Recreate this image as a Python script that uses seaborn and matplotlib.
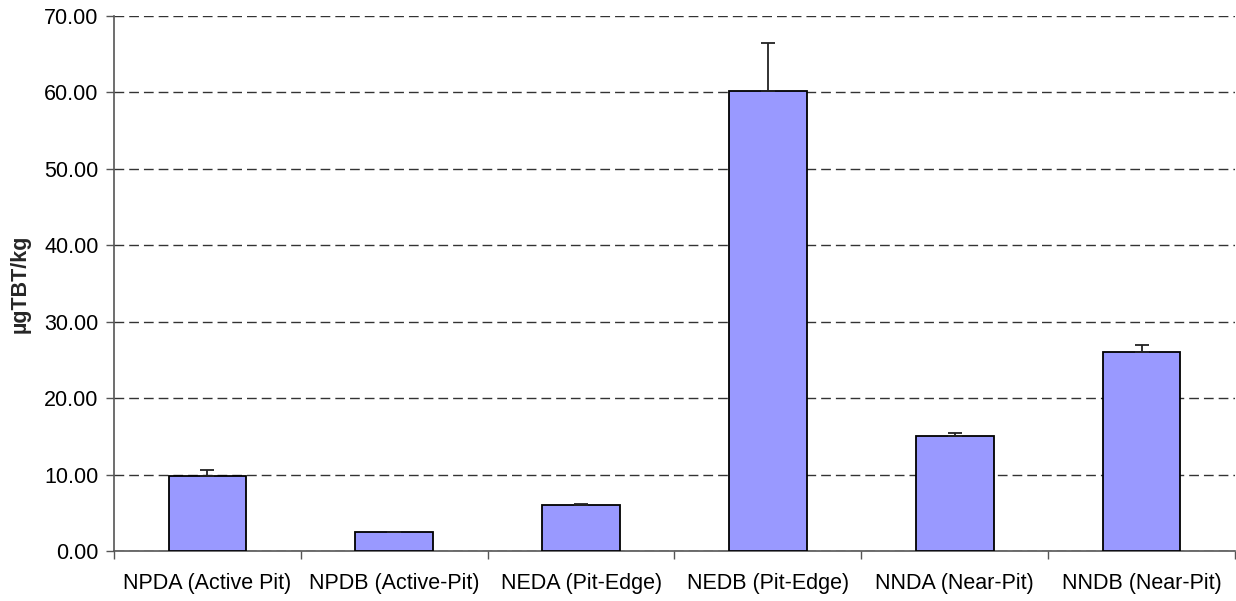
import numpy as np
import pandas as pd
import seaborn as sns
import matplotlib.pyplot as plt
import matplotlib.ticker as ticker

sites = ['NPDA (Active Pit)', 'NPDB (Active-Pit)', 'NEDA (Pit-Edge)',
         'NEDB (Pit-Edge)', 'NNDA (Near-Pit)', 'NNDB (Near-Pit)']
tbt_mean = [9.85, 2.45, 6.0, 60.2, 15.1, 26.1]
tbt_err = [0.8, 0.05, 0.2, 6.3, 0.4, 0.8]

df = pd.DataFrame({'site': sites, 'tbt': tbt_mean, 'err': tbt_err})

sns.set_style('white')
plt.rcParams['font.family'] = ['Liberation Sans', 'DejaVu Sans']
plt.rcParams['text.color'] = 'black'
plt.rcParams['xtick.color'] = 'black'
plt.rcParams['ytick.color'] = 'black'

fig = plt.figure(figsize=(12.36, 6.01), dpi=100)
ax = fig.add_axes([0.0922, 0.0832, 0.9070, 0.8902])

sns.barplot(data=df, x='site', y='tbt', color='#9999FF', saturation=1,
            width=0.415, edgecolor='black', linewidth=1.3, errorbar=None, ax=ax, zorder=3)

# upper-only error bars
ax.errorbar(np.arange(len(df)), df['tbt'], yerr=[np.zeros(len(df)), df['err']],
            fmt='none', ecolor='#222222', elinewidth=1.3, capsize=5, capthick=1.3, zorder=4)

ax.set_xlim(-0.5, len(df) - 0.5)
ax.set_ylim(0, 70)
ax.yaxis.set_major_locator(ticker.MultipleLocator(10))
ax.yaxis.set_major_formatter(ticker.FormatStrFormatter('%.2f'))
ax.grid(axis='y', linestyle=(0, (7, 3.6)), color='#333333', linewidth=1.0, zorder=0)
ax.set_axisbelow(True)

# category boundary ticks like Excel
ax.xaxis.set_major_locator(ticker.FixedLocator(np.arange(-0.5, len(df), 1)))
ax.xaxis.set_major_formatter(ticker.NullFormatter())
ax.xaxis.set_minor_locator(ticker.FixedLocator(np.arange(len(df))))
ax.xaxis.set_minor_formatter(ticker.FixedFormatter(sites))
ax.tick_params(axis='x', which='major', bottom=True, direction='out', length=6, width=1,
               color='#555555')
ax.tick_params(axis='x', which='minor', bottom=True, length=0, labelsize=15.5, pad=16)
ax.tick_params(axis='y', left=True, direction='out', length=6, width=1, color='#555555',
               labelsize=15.5, pad=5)

for s in ['top', 'right']:
    ax.spines[s].set_visible(False)
for s in ['left', 'bottom']:
    ax.spines[s].set_color('#555555')
    ax.spines[s].set_linewidth(1.2)

ax.set_xlabel('')
ax.set_ylabel('µgTBT/kg', fontsize=15.5, fontweight='bold', labelpad=10)

fig.savefig('out.png', dpi=100)
